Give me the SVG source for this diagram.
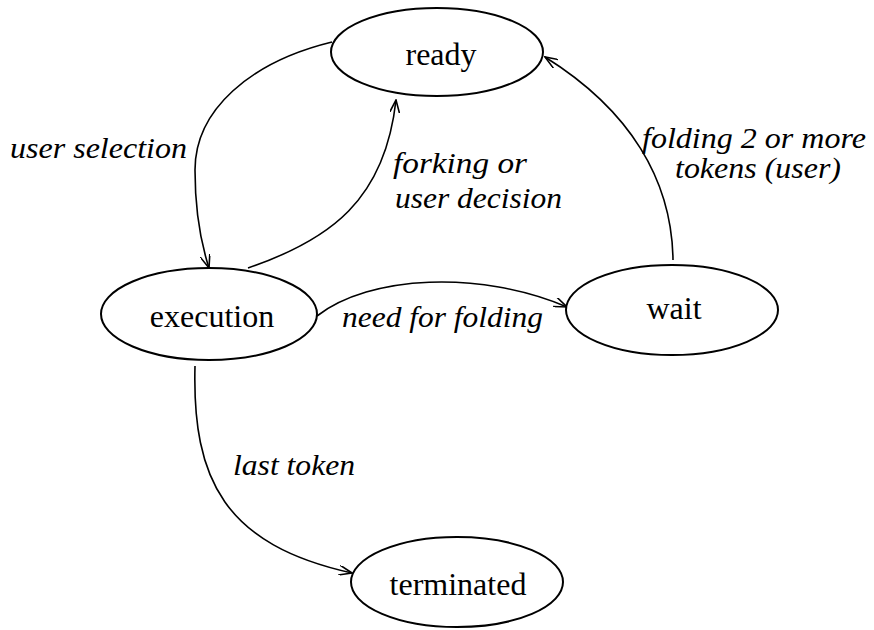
<svg xmlns="http://www.w3.org/2000/svg" width="874" height="630" viewBox="0 0 874 630">
<style>
.node{fill:#fff;stroke:#000;stroke-width:2}
.nt{font-family:"Liberation Serif",serif;font-size:32px;text-anchor:middle;fill:#000}
.lb{font-family:"Liberation Serif",serif;font-style:italic;font-size:29px;fill:#000}
.edge{fill:none;stroke:#000;stroke-width:1.6;marker-end:url(#arr)}
</style>
<defs>
<marker id="arr" viewBox="0 0 14 10" refX="13" refY="5" markerWidth="14" markerHeight="10" markerUnits="userSpaceOnUse" orient="auto">
<path d="M0,0 L13,5 L0,10" fill="none" stroke="#000" stroke-width="1.6"/>
</marker>
</defs>
<rect width="874" height="630" fill="#fff"/>
<g id="connectors">
<path id="e-user-selection" class="edge" d="M332,42 C250,62 195,110 195,170 C195,210 200,240 209,268"/>
<path id="e-forking" class="edge" d="M248,268 C330,240 385,200 396,100"/>
<path id="e-need-folding" class="edge" d="M317,316 C370,275 480,270 567,307"/>
<path id="e-folding-2" class="edge" d="M673,260 C672,180 630,110 545,57"/>
<path id="e-last-token" class="edge" d="M195,366 C192,480 225,545 352,573"/>
<text class="lb" x="10" y="158" textLength="177" lengthAdjust="spacingAndGlyphs">user selection</text>
<text class="lb" x="393" y="173" textLength="134" lengthAdjust="spacingAndGlyphs">forking or</text>
<text class="lb" x="395" y="208" textLength="167" lengthAdjust="spacingAndGlyphs">user decision</text>
<text class="lb" x="642" y="148" textLength="224" lengthAdjust="spacingAndGlyphs">folding 2 or more</text>
<text class="lb" x="675" y="178" textLength="166" lengthAdjust="spacingAndGlyphs">tokens (user)</text>
<text class="lb" x="342" y="327" textLength="201" lengthAdjust="spacingAndGlyphs">need for folding</text>
<text class="lb" x="233" y="475" textLength="122" lengthAdjust="spacingAndGlyphs">last token</text>
</g>
<g id="ready">
<ellipse class="node" cx="437" cy="52" rx="106" ry="44"/>
<text class="nt" x="441" y="65">ready</text>
</g>
<g id="execution">
<ellipse class="node" cx="209" cy="314" rx="108" ry="46"/>
<text class="nt" x="212" y="327">execution</text>
</g>
<g id="wait">
<ellipse class="node" cx="672" cy="310" rx="106" ry="45"/>
<text class="nt" x="674" y="319">wait</text>
</g>
<g id="terminated">
<ellipse class="node" cx="457" cy="582" rx="106" ry="45"/>
<text class="nt" x="458" y="595">terminated</text>
</g>
</svg>
